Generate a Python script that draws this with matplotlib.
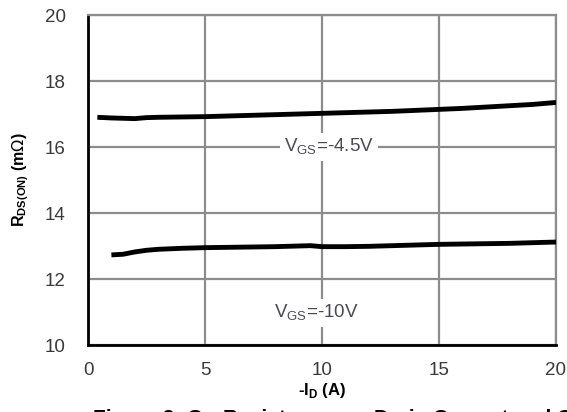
import matplotlib
matplotlib.use("Agg")
import matplotlib.pyplot as plt

plt.rcParams['font.family'] = ['Liberation Sans', 'DejaVu Sans']

x45 = [0.4, 1.0, 1.5, 2.0, 2.5, 3.0, 4.0, 5.0, 6.0, 7.0, 8.0, 9.0, 10.0, 11.0, 12.0, 13.0, 14.0, 15.0, 16.0, 17.0, 18.0, 19.0, 20.0]
y45 = [16.90, 16.88, 16.87, 16.86, 16.89, 16.90, 16.91, 16.92, 16.94, 16.96, 16.98, 17.00, 17.02, 17.04, 17.06, 17.08, 17.11, 17.14, 17.17, 17.21, 17.25, 17.29, 17.35]
x10 = [1.0, 1.5, 2.0, 2.5, 3.0, 4.0, 5.0, 6.0, 7.0, 8.0, 9.0, 9.5, 10.0, 11.0, 12.0, 13.0, 14.0, 15.0, 16.0, 17.0, 18.0, 19.0, 20.0]
y10 = [12.73, 12.75, 12.82, 12.87, 12.90, 12.93, 12.95, 12.96, 12.97, 12.98, 13.00, 13.01, 12.98, 12.98, 12.99, 13.01, 13.03, 13.05, 13.06, 13.07, 13.08, 13.10, 13.12]

xticks = [0, 5, 10, 15, 20]
yticks = [10, 12, 14, 16, 18, 20]

fig = plt.figure(figsize=(5.67, 4.12), dpi=100)
ax = fig.add_axes([88/567, 1-345/412, (556-88)/567, (345-15)/412])
ax.set_xlim(0, 20)
ax.set_ylim(10, 20)
ax.set_xticks(xticks)
ax.set_yticks(yticks)
ax.grid(True, color='#8c8c8c', linewidth=1.6)
ax.set_axisbelow(True)
for s in ['top', 'right']:
    ax.spines[s].set_color('#8c8c8c')
    ax.spines[s].set_linewidth(1.6)
for s in ['left', 'bottom']:
    ax.spines[s].set_color('black')
    ax.spines[s].set_linewidth(2.0)
ax.tick_params(axis='y', length=0, pad=16, labelsize=13.5, colors='#3a3a3a')
ax.tick_params(axis='x', length=0, pad=12, labelsize=13.5, colors='#3a3a3a')

ax.plot(x45, y45, color='black', linewidth=3.5, solid_capstyle='butt', zorder=3)
ax.plot(x10, y10, color='black', linewidth=3.5, solid_capstyle='butt', zorder=3)

bbox = dict(facecolor='white', edgecolor='none', pad=3)
ax.text(10.3, 16.0, r'V$_{\mathregular{GS}}$=-4.5V', ha='center', va='center',
        fontsize=13.5, color='#4a4a55', bbox=bbox, zorder=4)
ax.text(9.75, 10.97, r'V$_{\mathregular{GS}}$=-10V', ha='center', va='center',
        fontsize=13.5, color='#4a4a55', bbox=bbox, zorder=4)

ax.set_ylabel(r'R$_{\mathregular{DS(ON)}}$ (m$\Omega$)', fontsize=11.5, fontweight='bold', labelpad=10)
ax.set_xlabel(r'-I$_{\mathregular{D}}$ (A)', fontsize=12, fontweight='bold', labelpad=2)

fig.text(93/567, 1-428/412, 'Figure 3: On-Resistance vs. Drain Current and Gate Voltage',
         fontsize=15, fontweight='bold', color='black', ha='left', va='bottom')

fig.savefig('out.png', dpi=100)
